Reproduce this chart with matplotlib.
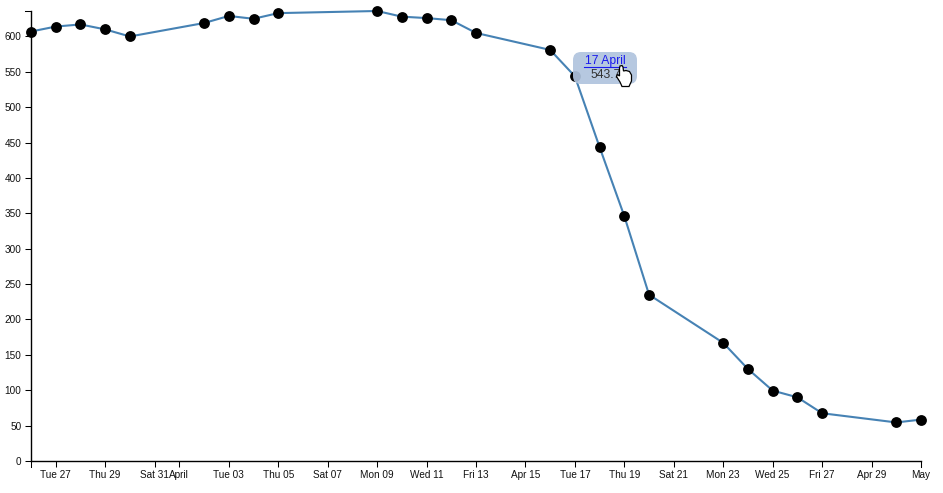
import matplotlib
matplotlib.use("Agg")
import matplotlib.pyplot as plt
from matplotlib.patches import FancyBboxPatch, Polygon
from matplotlib.lines import Line2D
from matplotlib.transforms import Affine2D

plt.rcParams['font.family'] = ['Liberation Sans', 'DejaVu Sans']

day_offsets = [0, 1, 2, 3, 4, 7, 8, 9, 10, 14, 15, 16, 17, 18, 21, 22, 23, 24, 25, 28, 29, 30, 31, 32, 35, 36]
values = [607, 614, 617, 610, 600, 619, 629, 625, 633, 636, 628, 626, 623, 605,
          581, 543.7, 443.5, 346, 235, 167, 130, 99.5, 90, 67.5, 54.5, 58.5]
x_ticks = [1, 3, 5, 6, 8, 10, 12, 14, 16, 18, 20, 22, 24, 26, 28, 30, 32, 34, 36]
x_labels = ['Tue 27', 'Thu 29', 'Sat 31', 'April', 'Tue 03', 'Thu 05', 'Sat 07', 'Mon 09', 'Wed 11',
            'Fri 13', 'Apr 15', 'Tue 17', 'Thu 19', 'Sat 21', 'Mon 23', 'Wed 25', 'Fri 27', 'Apr 29', 'May']
y_ticks = list(range(0, 601, 50))
tip_title = '17 April'
tip_value = '543.7'

W, H = 943, 493
fig = plt.figure(figsize=(W / 100, H / 100), dpi=100)
L, R, T, B = 31.0, 921.0, 11.0, 461.0
ax = fig.add_axes([L / W, 1 - B / H, (R - L) / W, (B - T) / H])
ax.set_xlim(0, 36)
ax.set_ylim(0, 636)
ax.patch.set_alpha(0)

ax.plot(day_offsets, values, color='#4682b4', lw=1.5, zorder=3, clip_on=False, solid_joinstyle='round')
ax.plot(day_offsets, values, ls='none', marker='o', ms=7.8, mfc='black', mec='black', mew=0, zorder=4, clip_on=False)

for s in ['top', 'right']:
    ax.spines[s].set_visible(False)
for s in ['left', 'bottom']:
    ax.spines[s].set_linewidth(1.0)
    ax.spines[s].set_color('black')

ax.set_xticks(x_ticks, x_labels)
ax.set_yticks(y_ticks)
ax.tick_params(axis='x', length=4.3, width=0.75, pad=2.4, labelsize=7.2, color='black', labelcolor='#111111')
ax.tick_params(axis='y', length=4.3, width=0.75, pad=2.6, labelsize=7.2, color='black', labelcolor='#111111')

# d3 axis end caps
px = Affine2D().scale(1, -1).translate(0, H)
for xs, ys in [((25, 31), (11, 11)), ((31, 31), (461, 467)), ((921, 921), (461, 467))]:
    fig.add_artist(Line2D(xs, ys, transform=px, color='black', lw=0.75))

# tooltip
box = FancyBboxPatch((573 + 8, 52 + 8), 64 - 16, 32 - 16, boxstyle='round,pad=8,rounding_size=8',
                     transform=px, fc='#b0c4de', ec='none', alpha=0.92, zorder=10)
fig.add_artist(box)
fig.text(605, 61, tip_title, transform=px, ha='center', va='center', fontsize=8.7, color='#1a1aee', zorder=11)
fig.add_artist(Line2D((584, 626), (66.5, 66.5), transform=px, color='#1a1aee', lw=0.8, zorder=11))
fig.text(606, 75.5, tip_value, transform=px, ha='center', va='center', fontsize=8.7, color='#333333', zorder=11)

# hand cursor
hand = [(620, 66), (622, 65.5), (623, 67), (623.5, 71), (626, 70.5), (629.5, 71.5), (631.5, 75), (631.5, 81),
        (629, 86.5), (622, 86.5), (620, 82), (616.5, 76.5), (617.5, 74.5), (619.5, 76), (619.5, 68)]
fig.add_artist(Polygon(hand, closed=True, transform=px, fc='white', ec='black', lw=0.9, zorder=12))

fig.savefig('out.png', dpi=100)
